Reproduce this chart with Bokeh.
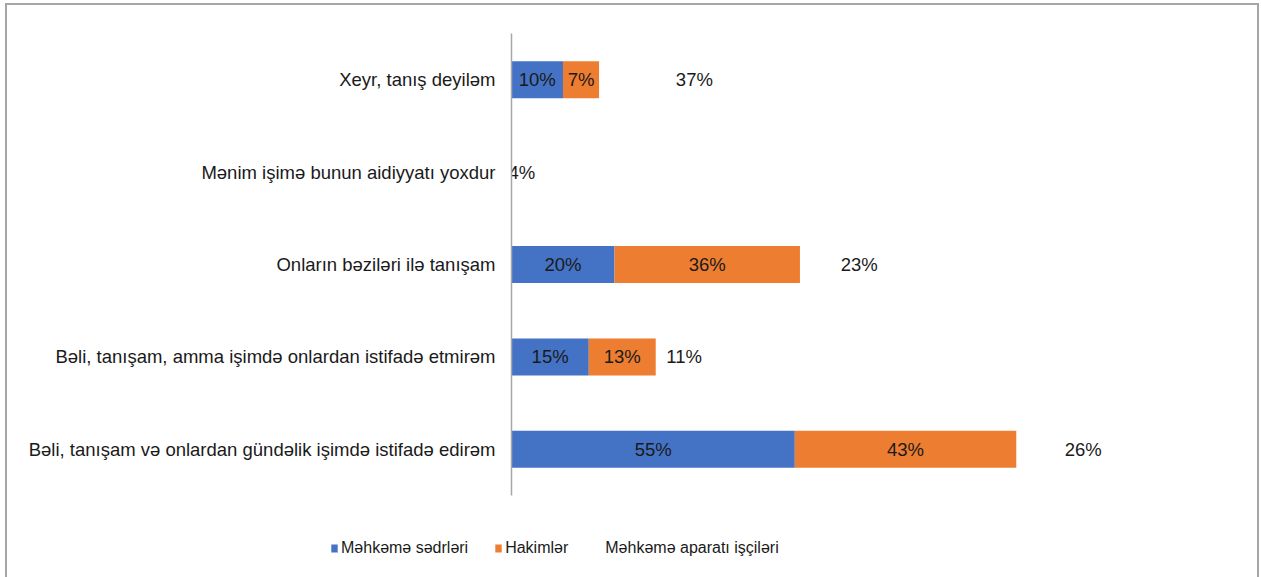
from bokeh.plotting import figure
from bokeh.models import ColumnDataSource, Legend, LegendItem, FactorRange, Range1d
from bokeh.layouts import column
from bokeh.core.properties import value
from bokeh.embed import file_html
from bokeh.resources import INLINE

categories = [
    "Bəli, tanışam və onlardan gündəlik işimdə istifadə edirəm",
    "Bəli, tanışam, amma işimdə onlardan istifadə etmirəm",
    "Onların bəziləri ilə tanışam",
    "Mənim işimə bunun aidiyyatı yoxdur",
    "Xeyr, tanış deyiləm",
]
sedrler = [55, 15, 20, 0, 10]
hakimler = [43, 13, 36, 0, 7]
aparat = [26, 11, 23, 4, 37]
series_names = ["Məhkəmə sədrləri", "Hakimlər", "Məhkəmə aparatı işçiləri"]

FONT = "Liberation Sans"
BLUE = "#4472C4"
ORANGE = "#ED7D31"
COLORS = [BLUE, ORANGE, "white"]

src = ColumnDataSource(dict(cat=categories, s=sedrler, h=hakimler, a=aparat))

p = figure(
    y_range=FactorRange(*categories),
    x_range=(0, 142.5),
    width=1250, height=515,
    output_backend="svg", toolbar_location=None,
    min_border_left=504, min_border_right=12, min_border_top=28, min_border_bottom=25,
)
p.frame_align = False

rs = p.hbar_stack(["s", "h", "a"], y="cat", height=0.4, source=src,
                  color=COLORS, line_color=None)
rs[2].glyph.fill_alpha = 0

def lab_source(vals, offs):
    xs, ys, ts = [], [], []
    for c, v, o in zip(categories, vals, offs):
        if v > 0:
            xs.append(o + v / 2)
            ys.append(c)
            ts.append(f"{v}%")
    return ColumnDataSource(dict(x=xs, y=ys, t=ts))

zero = [0] * len(categories)
off2 = list(sedrler)
off3 = [a + b for a, b in zip(sedrler, hakimler)]
for vals, offs in [(sedrler, zero), (hakimler, off2), (aparat, off3)]:
    p.text(x="x", y="y", text="t", source=lab_source(vals, offs),
           text_align="center", text_baseline="middle",
           text_font=value(FONT), text_font_size="18.5px", text_color="#1a1a1a")

p.xaxis.visible = False
p.xgrid.visible = False
p.ygrid.visible = False
p.outline_line_color = None
yax = p.yaxis[0]
yax.axis_line_color = "#a6a6a6"
yax.axis_line_width = 1.5
yax.major_tick_line_color = None
yax.minor_tick_line_color = None
yax.major_label_standoff = 10
yax.major_label_text_font = FONT
yax.major_label_text_font_size = "18.5px"
yax.major_label_text_color = "#1a1a1a"

# legend strip
p2 = figure(width=1250, height=62, x_range=Range1d(0, 1), y_range=Range1d(0, 1),
            output_backend="svg", toolbar_location=None,
            min_border_left=0, min_border_right=0, min_border_top=0, min_border_bottom=0)
p2.frame_align = False
p2.axis.visible = False
p2.grid.visible = False
p2.outline_line_color = None
nan = float("nan")
lr = []
for c in COLORS:
    r = p2.hbar(y=[nan], right=[nan], height=0.4, color=c, line_color=None)
    lr.append(r)
lr[2].glyph.fill_alpha = 0

legend = Legend(
    items=[LegendItem(label=n, renderers=[r]) for n, r in zip(series_names, lr)],
    orientation="horizontal", location=(323, 25),
    glyph_width=8, glyph_height=10, label_standoff=3, spacing=26,
    padding=0, margin=0, border_line_alpha=0, background_fill_alpha=0,
    label_text_font=FONT, label_text_font_size="16px", label_text_color="#1a1a1a",
)
p2.add_layout(legend, "center")

lay = column(p, p2, spacing=0)
lay.styles = {"border": "2px solid #a6a6a6", "margin-left": "5px", "margin-top": "3px"}

open("out.html", "w").write(file_html(lay, INLINE))
